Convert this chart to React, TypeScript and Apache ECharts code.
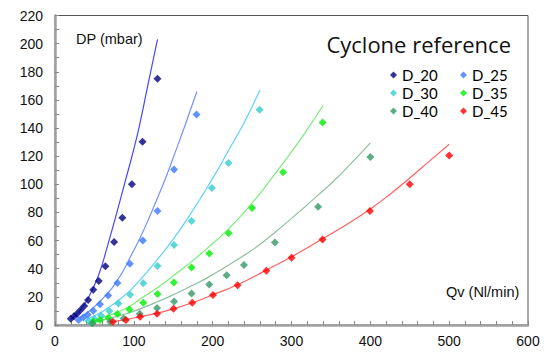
import React, { useEffect, useRef } from "react";
import * as echarts from "echarts";

const seriesNames = ["D_20", "D_25", "D_30", "D_35", "D_40", "D_45"];
const markerColors = ["#000080", "#3a78ff", "#33cccc", "#00ee00", "#339966", "#ff0000"];
const lineColors = ["#4646ff", "#7391ff", "#5fd2ff", "#78ee78", "#8cc0a0", "#ff6060"];

const d20: number[][] = [[20, 4.5], [24, 6.2], [28, 8], [32.5, 10.7], [37, 13.5], [42, 17.7], [48.5, 25], [55.5, 31.3], [64, 41.8], [75, 59], [85.5, 76.3], [97.5, 100], [111, 130.3], [130, 175]];
const d25: number[][] = [[30, 3.5], [36, 5.4], [41.5, 7.3], [48.5, 10.2], [57, 14.8], [67.5, 20.9], [79.2, 29.9], [95, 43.6], [111.4, 60], [130, 81], [151, 110.5], [179.5, 149.6]];
const d30: number[][] = [[42.5, 2.8], [50, 4.2], [58.5, 6.6], [69, 9.9], [80.4, 15.3], [95.3, 21.5], [112, 29.7], [130, 42], [151, 56.8], [173.2, 74], [199, 97.3], [220, 115.2], [259.6, 153]];
const d35: number[][] = [[48.5, 2.3], [57, 3.5], [67.7, 5.2], [79.2, 7.8], [94.4, 11.1], [112, 15.9], [130, 22], [150.8, 30.2], [173.2, 40.8], [195.7, 50.9], [220.2, 65.2], [250, 83.2], [289.3, 108.6], [339.5, 144]];
const d40: number[][] = [[47.4, 1], [70, 2.3], [87, 4.7], [107.5, 8], [129.5, 12], [151, 16.7], [173.2, 22.4], [195.7, 28.8], [217.7, 35.3], [239.7, 42.6], [279, 58.7], [333.8, 84.1], [400, 119.4]];
const d45: number[][] = [[73.3, 2.3], [90, 3.5], [108, 5.9], [129.5, 8], [150.3, 11.5], [174.1, 15.8], [200.4, 21.4], [231.6, 28.3], [268.1, 38.6], [300, 47.8], [339.3, 60.8], [399.5, 81], [450, 100.1], [500, 120.5]];

const fit20: number[][] = [[20, 4], [30, 9], [42, 19], [55, 35], [66, 55], [78, 79], [89, 102], [100, 125], [108, 144], [118, 171], [130, 203]];
const fit25: number[][] = [[30, 5], [40, 8.5], [50, 13], [60, 18.5], [72, 26], [85, 37], [97, 50], [108, 62], [120, 77], [129, 89], [140, 104], [152, 122], [165, 142], [180, 166]];
const fit30: number[][] = [[40, 4], [50, 6.5], [60, 9.5], [72, 14], [85, 19.5], [97, 25.5], [108, 32], [129, 46], [150, 61], [172, 79], [190, 95], [205, 109], [220, 124], [240, 144], [260, 167]];
const fit35: number[][] = [[48, 2.5], [60, 5], [72, 7.5], [85, 10.5], [97, 14], [108, 18.5], [130, 26.5], [150, 35], [172, 44.5], [193, 54.5], [215, 65.5], [235, 77], [255, 90], [273, 103], [300, 123], [320, 139], [340, 156]];
const fit40: number[][] = [[45, 2], [60, 3.5], [75, 5.5], [90, 8], [108, 11.5], [130, 16.5], [150, 21.5], [172, 27.5], [193, 33.5], [214, 40.5], [240, 49.5], [261, 57.7], [290, 71], [315, 83], [334, 92.5], [354, 102.5], [375, 114.5], [400, 129.5]];
const fit45: number[][] = [[70, 2], [90, 3.8], [108, 6], [130, 8.5], [150, 11.5], [174, 15.8], [200, 21.4], [232, 28.8], [268, 39], [300, 48.5], [340, 61.5], [370, 71.5], [400, 82.5], [425, 93], [450, 104.5], [475, 116.5], [500, 128.5]];

const measured = [d20, d25, d30, d35, d40, d45];
const fits = [fit20, fit25, fit30, fit35, fit40, fit45];

const xMin = 0, xMax = 600, xStep = 100;
const yMin = 0, yMax = 220, yStep = 20;

export default function App() {
  const ref = useRef<HTMLDivElement>(null);
  useEffect(() => {
    if (!ref.current) return;
    const chart = echarts.init(ref.current, null, { renderer: "svg" });
    const labelFont = "'Liberation Sans', Arial, sans-serif";
    const titleFont = "'Open Sans', sans-serif";
    const legendFont = "Lato, 'Open Sans', sans-serif";
    const lineSeries = fits.map((d, i) => ({
      name: seriesNames[i] + " fit",
      type: "line",
      data: d,
      smooth: true,
      showSymbol: false,
      symbol: "none",
      silent: true,
      lineStyle: { color: lineColors[i], width: 1.2 },
      z: 2,
    }));
    const scatterSeries = measured.map((d, i) => ({
      name: seriesNames[i],
      type: "scatter",
      data: d,
      symbol: "diamond",
      symbolSize: 8,
      itemStyle: { color: markerColors[i] },
      z: 3,
    }));
    const legendCommon = {
      orient: "vertical",
      itemWidth: 7,
      itemHeight: 7,
      itemGap: 0,
      icon: "diamond",
      textStyle: { fontFamily: legendFont, fontSize: 15, color: "#000", lineHeight: 18 },
      top: 66,
      padding: 0,
    };
    chart.setOption({
      animation: false,
      backgroundColor: "#fff",
      grid: { left: 55, right: 18, top: 15.5, bottom: 27, show: true, borderColor: "#555", borderWidth: 1 },
      legend: [
        { ...legendCommon, left: 390, data: ["D_20", "D_30", "D_40"] },
        { ...legendCommon, left: 460, data: ["D_25", "D_35", "D_45"] },
      ],
      xAxis: {
        type: "value",
        min: xMin,
        max: xMax,
        interval: xStep,
        axisLine: { show: true, lineStyle: { color: "#a0a0a0", width: 2.5 } },
        axisTick: { show: true, inside: true, length: 4, lineStyle: { color: "#888" } },
        minorTick: { show: true, splitNumber: 5, length: 4, lineStyle: { color: "#888" } },
        splitLine: { show: false },
        axisLabel: { fontFamily: labelFont, fontSize: 14, color: "#111", margin: 9 },
      },
      yAxis: {
        type: "value",
        min: yMin,
        max: yMax,
        interval: yStep,
        axisLine: { show: true, lineStyle: { color: "#a0a0a0", width: 2.5 } },
        axisTick: { show: true, inside: true, length: 4, lineStyle: { color: "#888" } },
        minorTick: { show: true, splitNumber: 2, length: 4, lineStyle: { color: "#888" } },
        splitLine: { show: false },
        axisLabel: { fontFamily: labelFont, fontSize: 14, color: "#111", margin: 12 },
      },
      graphic: [
        {
          type: "text",
          x: 511,
          y: 44,
          style: { text: "Cyclone reference", fontFamily: titleFont, fontSize: 22, fill: "#111", align: "right", verticalAlign: "middle" },
          z: 10,
        },
        {
          type: "text",
          x: 76,
          y: 39,
          style: { text: "DP (mbar)", fontFamily: labelFont, fontSize: 14.5, fill: "#111", align: "left", verticalAlign: "middle" },
          z: 10,
        },
        {
          type: "text",
          x: 446,
          y: 292,
          style: { text: "Qv (Nl/min)", fontFamily: labelFont, fontSize: 14.5, fill: "#111", align: "left", verticalAlign: "middle" },
          z: 10,
        },
      ],
      series: [...lineSeries, ...scatterSeries],
    });
    return () => chart.dispose();
  }, []);
  return <div ref={ref} style={{ width: 546, height: 352, position: "absolute", left: 0, top: 0 }} />;
}
